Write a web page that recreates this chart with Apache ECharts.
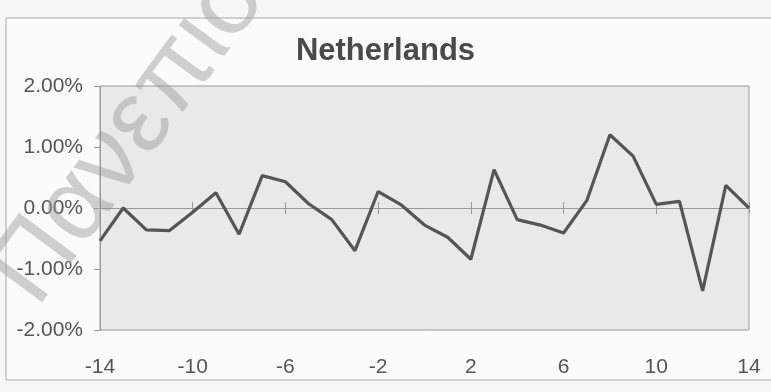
<!DOCTYPE html>
<html>
<head>
<meta charset="utf-8">
<script src="https://cdn.jsdelivr.net/npm/echarts@6/dist/echarts.min.js"></script>
<style>
html,body{margin:0;padding:0;background:#f6f6f6;}
#c{width:771px;height:392px;}
</style>
</head>
<body>
<div id="c"></div>
<script>
const titleText = 'Netherlands';
const xValues = [-14,-13,-12,-11,-10,-9,-8,-7,-6,-5,-4,-3,-2,-1,0,1,2,3,4,5,6,7,8,9,10,11,12,13,14];
const yValues = [-0.54,0.0,-0.36,-0.37,-0.07,0.25,-0.43,0.53,0.43,0.07,-0.19,-0.70,0.27,0.05,-0.28,-0.48,-0.84,0.63,-0.19,-0.28,-0.41,0.12,1.20,0.85,0.06,0.11,-1.36,0.37,0.0];
const xMin = -14, xMax = 14, xStep = 4;
const yMin = -2, yMax = 2, yStep = 1;
const watermark = 'Πανεπιστήμιο';

const chart = echarts.init(document.getElementById('c'), null, {renderer:'canvas'});
const gridPos = {left:100, right:22, top:86, bottom:62};
const font = 'Arial, "Liberation Sans", sans-serif';
const data = xValues.map((x,i)=>[x, yValues[i]]);

function hiddenY(gi){
  return {type:'value', gridIndex:gi, min:yMin, max:yMax, interval:yStep, show:false};
}
function zeroX(gi, inside){
  return {type:'value', gridIndex:gi, min:xMin, max:xMax, interval:xStep,
    axisLine:{show:true, onZero:true, lineStyle:{color:'#9a9a9a', width:1}},
    axisTick:{show:true, inside:inside, length:6, lineStyle:{color:'#9a9a9a'}},
    axisLabel:{show:false}, splitLine:{show:false}};
}

chart.setOption({
  animation:false,
  backgroundColor:'#f6f6f6',
  title:{text:titleText, left:'center', top:31,
    textStyle:{fontFamily:font, fontSize:31, fontWeight:'bold', color:'#4a4a4a'}},
  graphic:[
    {type:'rect', shape:{x:6, y:18, width:800, height:362}, z:-10,
      style:{fill:'#fbfbfb', stroke:'#a8a8a8', lineWidth:1}},
    {type:'text', x:14, y:292, rotation:53.5*Math.PI/180, z:100,
      style:{text:watermark, fontSize:104, fontWeight:'normal', fontFamily:font,
        align:'left', verticalAlign:'middle', fill:'rgba(150,150,150,0.45)'}}
  ],
  grid:[
    Object.assign({show:true, backgroundColor:'#e9e9e9', borderColor:'#9a9a9a', borderWidth:1}, gridPos),
    Object.assign({show:false}, gridPos),
    Object.assign({show:false}, gridPos)
  ],
  xAxis:[
    {type:'value', gridIndex:0, min:xMin, max:xMax, interval:xStep,
      axisLine:{show:false, onZero:false}, axisTick:{show:false}, splitLine:{show:false},
      axisLabel:{fontFamily:font, fontSize:21, color:'#555', margin:27}},
    zeroX(1, true),
    zeroX(2, false)
  ],
  yAxis:[
    {type:'value', gridIndex:0, min:yMin, max:yMax, interval:yStep,
      axisLine:{show:true, onZero:false, lineStyle:{color:'#9a9a9a'}},
      axisTick:{show:true, length:6, lineStyle:{color:'#9a9a9a'}},
      splitLine:{show:false},
      axisLabel:{fontFamily:font, fontSize:21, color:'#555', margin:17,
        formatter:v=>v.toFixed(2)+'%'}},
    hiddenY(1), hiddenY(2)
  ],
  series:[{
    type:'line', xAxisIndex:0, yAxisIndex:0, data:data, symbol:'none', z:5,
    lineStyle:{color:'#555555', width:3.2}
  }]
});
</script>
</body>
</html>
